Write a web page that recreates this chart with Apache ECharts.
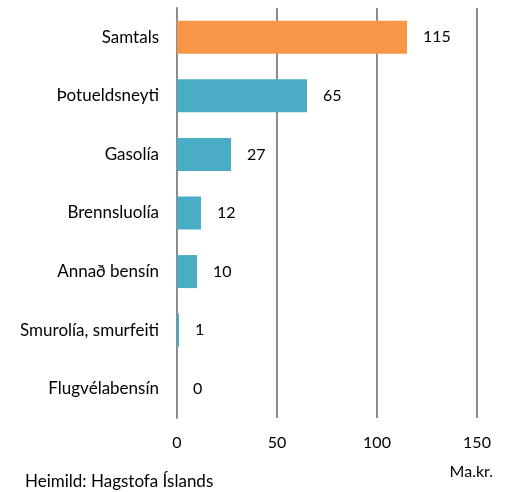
<!DOCTYPE html>
<html>
<head>
<meta charset="utf-8">
<script src="https://cdn.jsdelivr.net/npm/echarts@6/dist/echarts.min.js"></script>
<style>
  html, body { margin: 0; padding: 0; background: #fff; }
  #chart { width: 508px; height: 492px; }
</style>
</head>
<body>
<div id="chart"></div>
<script>
// categories top to bottom
const categories = ['Samtals', 'Þotueldsneyti', 'Gasolía', 'Brennsluolía', 'Annað bensín', 'Smurolía, smurfeiti', 'Flugvélabensín']
const values = [115, 65, 27, 12, 10, 1, 0]
const xTicks = { min: 0, max: 150, interval: 50 }

const FONT = 'Lato'
const chart = echarts.init(document.getElementById('chart'))

chart.setOption({
  animation: false,
  grid: { left: 177, right: 31, top: 8, bottom: 74, containLabel: false },
  xAxis: {
    type: 'value',
    min: xTicks.min,
    max: xTicks.max,
    interval: xTicks.interval,
    axisLine: { show: false },
    axisTick: { show: false },
    axisLabel: { color: '#000', fontSize: 16, fontFamily: FONT, margin: 17 },
    splitLine: { show: true, lineStyle: { color: '#8c8c8c', width: 2 } }
  },
  yAxis: {
    type: 'category',
    data: categories,
    inverse: true,
    axisLine: { show: true, lineStyle: { color: '#8c8c8c', width: 2 } },
    axisTick: { show: false },
    axisLabel: { color: '#000', fontSize: 17, fontFamily: FONT, margin: 18 }
  },
  series: [{
    type: 'bar',
    barWidth: 33,
    data: values.map((v, i) => ({
      value: v,
      itemStyle: { color: i === 0 ? '#F79646' : '#4BACC6' }
    })),
    label: {
      show: true,
      position: 'right',
      distance: 16,
      color: '#000',
      fontSize: 16,
      fontFamily: FONT
    }
  }],
  graphic: [
    {
      type: 'text',
      left: 25,
      top: 473,
      style: { text: 'Heimild: Hagstofa Íslands', fill: '#000', font: '17px ' + FONT }
    },
    {
      type: 'text',
      right: 15,
      top: 464,
      style: { text: 'Ma.kr.', fill: '#000', font: '16px ' + FONT }
    }
  ]
})
</script>
</body>
</html>
